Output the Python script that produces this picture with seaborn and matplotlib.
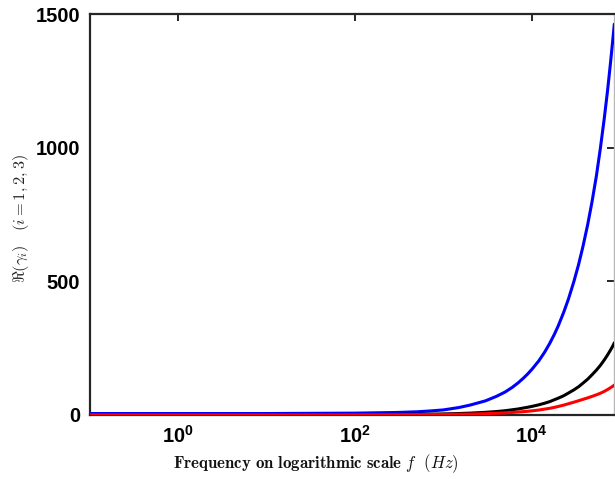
import numpy as np
import pandas as pd
import matplotlib
matplotlib.use("Agg")
import matplotlib.pyplot as plt
import seaborn as sns

# ---- data (frequency in Hz, Re(gamma_i)) ----
freq = [0.1, 1, 10, 100, 300, 500, 700, 1000, 1500, 2000, 3000, 4000, 5000,
        6000, 7000, 8000, 9000, 10000, 12000, 14000, 16000, 18000, 20000,
        23000, 26000, 30000, 34000, 38000, 43000, 48000, 54000, 60000, 66000,
        72000, 78000, 84000, 86070]
gamma_blue = [5.5, 5.5, 5.5, 7, 9.5, 12, 15, 19, 28, 37, 53, 70, 86,
              103, 120, 137, 153.5, 170, 202, 235, 268, 301, 334,
              384, 433, 499, 564, 630, 712, 795, 895, 1000, 1105,
              1210, 1318, 1425, 1462]
gamma_black = [1.5, 1.5, 1.5, 1.7, 2.3, 2.8, 3.3, 4, 5.5, 7, 10, 13, 16,
               19.5, 22.5, 26, 29, 32, 38, 44, 50, 57, 63,
               72, 82, 94, 106, 119, 134, 150, 168, 186, 205,
               224, 243, 262, 270]
gamma_red = [0.8, 0.8, 0.8, 0.9, 1.2, 1.5, 1.7, 2, 2.8, 3.5, 5, 6.5, 8,
             9.5, 11, 12.5, 14, 15.5, 18.5, 22, 25, 28.5, 32,
             37, 42, 48, 53.5, 58.5, 64, 69.5, 75.5, 81.5, 88,
             95, 102, 109, 112]

series_names = ["blue", "black", "red"]
series_colors = ["#0000ff", "#000000", "#ff0000"]

xtick_vals = [1, 100, 10000]
xtick_labels = [r"$\mathbf{10^{0}}$", r"$\mathbf{10^{2}}$", r"$\mathbf{10^{4}}$"]
ytick_vals = [0, 500, 1000, 1500]
ytick_labels = ["0", "500", "1000", "1500"]

df = pd.concat([
    pd.DataFrame({"f": freq, "g": gamma_blue, "s": "blue"}),
    pd.DataFrame({"f": freq, "g": gamma_black, "s": "black"}),
    pd.DataFrame({"f": freq, "g": gamma_red, "s": "red"}),
], ignore_index=True)

sns.set_style("white")
plt.rcParams["font.family"] = ["Liberation Sans", "DejaVu Sans"]
plt.rcParams["mathtext.fontset"] = "custom"
plt.rcParams["mathtext.rm"] = "Liberation Sans"
plt.rcParams["mathtext.bf"] = "Liberation Sans:bold"
plt.rcParams["mathtext.it"] = "Liberation Sans:italic"

fig = plt.figure(figsize=(6.15, 4.79), dpi=100)
ax = fig.add_axes([90 / 615, (479 - 415) / 479, (614.3 - 90) / 615, (415 - 14) / 479])

sns.lineplot(data=df, x="f", y="g", hue="s", hue_order=series_names,
             palette=dict(zip(series_names, series_colors)), linewidth=2.2,
             legend=False, ax=ax, sort=True, estimator=None, zorder=3)

ax.set_xscale("log")
ax.set_xlim(0.1, 86070)
ax.set_ylim(0, 1500)
ax.xaxis.set_minor_locator(matplotlib.ticker.NullLocator())
ax.set_xticks(xtick_vals)
ax.set_xticklabels(xtick_labels)
ax.set_yticks(ytick_vals)
ax.set_yticklabels(ytick_labels)

dark = "#262626"
for side in ["left", "bottom", "top"]:
    ax.spines[side].set_color(dark)
    ax.spines[side].set_linewidth(1.6)
ax.spines["right"].set_color("#b8b8b8")
ax.spines["right"].set_linewidth(1.0)

ax.tick_params(axis="both", which="major", direction="in", length=5, width=1.4,
               color=dark, top=True, right=True, labelsize=14.5, pad=7)
for lab in ax.get_xticklabels() + ax.get_yticklabels():
    lab.set_fontweight("bold")
    lab.set_color("black")

ax.set_xlabel(r"$\mathbf{Frequency\ on\ logarithmic\ scale}\ f\ \ (Hz)$",
              fontsize=12.1, math_fontfamily="cm", color="#111111")
ax.xaxis.set_label_coords(0.431, -0.092)
ax.set_ylabel(r"$\Re(\gamma_i)\ \ \ (i=1,2,3)$", fontsize=11.8,
              math_fontfamily="cm", color="#222222")
ax.yaxis.set_label_coords(-0.112, 0.49)

fig.savefig("out.png", dpi=100)
